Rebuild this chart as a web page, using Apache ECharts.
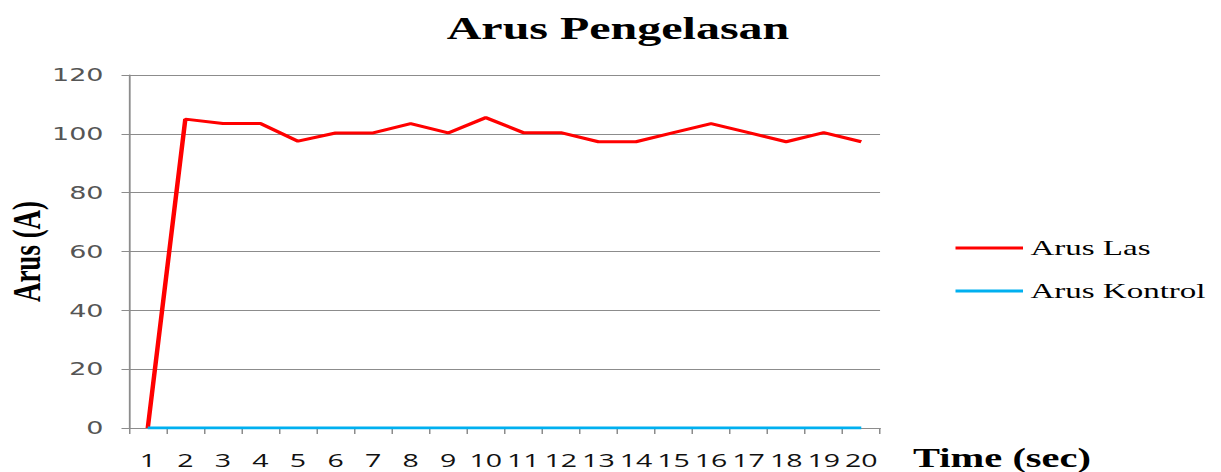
<!DOCTYPE html>
<html><head><meta charset="utf-8">
<script src="https://cdn.jsdelivr.net/npm/echarts@6/dist/echarts.min.js"></script>
<style>
html,body{margin:0;padding:0;background:#fff;overflow:hidden;width:1221px;height:472px}
#c{width:814px;height:472px;transform:scaleX(1.5);transform-origin:0 0}
</style>
</head><body><div id="c"></div>
<script>
const categories = ['1','2','3','4','5','6','7','8','9','10','11','12','13','14','15','16','17','18','19','20'];
const arusLas = [0,105,103.5,103.5,97.5,100.3,100.3,103.5,100.3,105.5,100.4,100.4,97.3,97.3,100.4,103.5,100.4,97.3,100.4,97.3];
const arusKontrol = [0,0,0,0,0,0,0,0,0,0,0,0,0,0,0,0,0,0,0,0];
const yTicks = {min:0, max:120, interval:20};

const chart = echarts.init(document.getElementById('c'), null, {renderer:'svg'});
chart.setOption({
  animation:false,
  title:{text:'Arus Pengelasan', left:407, textAlign:'center', top:7,
    textStyle:{fontFamily:'Liberation Serif', fontWeight:'bold', fontSize:32, color:'#000'}},
  legend:{orient:'vertical', left:632, top:232, itemWidth:45, itemHeight:3, itemGap:21, icon:'rect',
    textStyle:{fontFamily:'Liberation Serif', fontSize:22, color:'#000'},
    data:['Arus Las','Arus Kontrol']},
  grid:{left:86, right:227.3, top:75, bottom:44, containLabel:false, outerBoundsMode:'none'},
  xAxis:{type:'category', data:categories, boundaryGap:true,
    name:'Time (sec)', nameLocation:'end', nameGap:22, nameMoveOverlap:false,
    nameTextStyle:{fontFamily:'Liberation Serif', fontWeight:'bold', fontSize:27, color:'#000', verticalAlign:'top', padding:[16,0,0,0]},
    axisLine:{lineStyle:{color:'#8c8c8c', width:1.2}},
    axisTick:{show:true, alignWithLabel:false, length:6, lineStyle:{color:'#8c8c8c'}},
    axisLabel:{interval:0, margin:22, fontFamily:'Open Sans', fontSize:19, color:'#111'}},
  yAxis:{type:'value', min:yTicks.min, max:yTicks.max, interval:yTicks.interval,
    name:'Arus (A)', nameLocation:'middle', nameGap:55, nameMoveOverlap:false,
    nameTextStyle:{fontFamily:'Liberation Serif', fontWeight:'bold', fontSize:27, color:'#000'},
    axisLine:{show:true, lineStyle:{color:'#8c8c8c', width:1.2}},
    axisTick:{show:true, length:5, lineStyle:{color:'#8c8c8c'}},
    splitLine:{lineStyle:{color:'#8c8c8c', width:1.2}},
    axisLabel:{margin:17, fontFamily:'DejaVu Sans', fontSize:18, color:'#555'}},
  series:[
    {name:'Arus Las', type:'line', data:arusLas, symbol:'none', z:2,
      lineStyle:{color:'#ff0000', width:3}, itemStyle:{color:'#ff0000'}},
    {name:'Arus Kontrol', type:'line', data:arusKontrol, symbol:'none', z:3,
      lineStyle:{color:'#00b0f0', width:3}, itemStyle:{color:'#00b0f0'}}
  ]
});
</script></body></html>
